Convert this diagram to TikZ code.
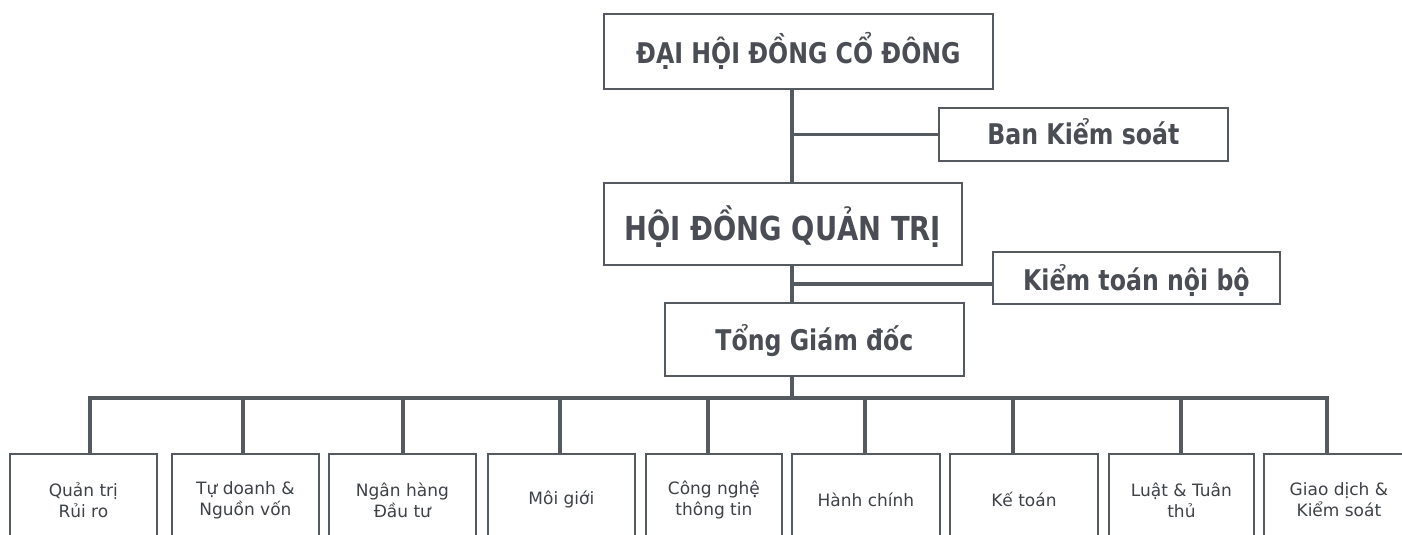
\documentclass[tikz,border=0pt]{standalone}
\usepackage{fontspec}
\setmainfont{DejaVu Sans}
\newfontfamily\titlefont[FakeStretch=0.83]{DejaVu Sans}
\definecolor{txt}{HTML}{4A4E54}
\definecolor{unittxt}{HTML}{3E4146}
\definecolor{ln}{HTML}{555A60}
\begin{document}
\begin{tikzpicture}[x=1pt,y=-1pt,
  box/.style={draw=ln, line width=1.8pt, rectangle, inner sep=0pt, text=txt, anchor=north west},
  head/.style={box, font=\titlefont\bfseries\fontsize{28.5}{33}\selectfont, text height=20.8pt, text depth=0pt},
  bighead/.style={box, font=\titlefont\bfseries\fontsize{33}{38}\selectfont, text height=24pt, text depth=0pt},
  unit/.style={box, text=unittxt, font=\fontsize{17}{21}\selectfont, align=center, minimum height=92pt},
  conn/.style={draw=ln, line width=3.5pt, line join=miter},
]
\clip (0,0) rectangle (1402,535);
\fill[white] (0,0) rectangle (1402,535);

% top hierarchy
\node[head, text height=24.8pt, minimum width=389pt, minimum height=75pt] (dhd) at (603,13) {ĐẠI HỘI ĐỒNG CỔ ĐÔNG};
\node[head, minimum width=289pt, minimum height=53pt] (bks) at (938,107) {Ban Kiểm soát};
\node[bighead, text height=34pt, minimum width=358pt, minimum height=82pt] (hdqt) at (603,182) {HỘI ĐỒNG QUẢN TRỊ};
\node[head, text height=24.8pt, minimum width=287pt, minimum height=52pt] (ktnb) at (992,251) {Kiểm toán nội bộ};
\node[head, text height=22.8pt, minimum width=299pt, minimum height=73pt] (tgd) at (664,302) {Tổng Giám đốc};

% units
\node[unit, minimum width=147pt] (u1) at (9,453) {Quản trị\\Rủi ro};
\node[unit, minimum width=147pt] (u2) at (171,453) {Tự doanh \&\\Nguồn vốn};
\node[unit, minimum width=147pt] (u3) at (328,453) {Ngân hàng\\Đầu tư};
\node[unit, minimum width=147pt] (u4) at (487,453) {Môi giới};
\node[unit, minimum width=136pt] (u5) at (645,453) {Công nghệ\\thông tin};
\node[unit, minimum width=148pt] (u6) at (791,453) {Hành chính};
\node[unit, minimum width=148pt] (u7) at (949,453) {Kế toán};
\node[unit, minimum width=145pt] (u8) at (1108,453) {Luật \& Tuân\\thủ};
\node[unit, minimum width=150pt] (u9) at (1263,453) {Giao dịch \&\\Kiểm soát};

% spine
\coordinate (sp) at (792,0);
\coordinate (busy) at (0,398);
\coordinate (kt) at ([yshift=-6pt]ktnb.west);
\draw[conn] (sp |- dhd.south) -- (sp |- hdqt.north);
\draw[conn] (sp |- bks.west) -- (bks.west);
\draw[conn] (sp |- hdqt.south) -- (sp |- tgd.north);
\draw[conn] (sp |- kt) -- (kt);
\draw[conn] (sp |- tgd.south) -- (sp |- busy);

% bus
\coordinate (b1) at (90,398);
\coordinate (b2) at (243,398);
\coordinate (b3) at (403,398);
\coordinate (b4) at (560,398);
\coordinate (b5) at (708,398);
\coordinate (b6) at (865,398);
\coordinate (b7) at (1013,398);
\coordinate (b8) at (1181,398);
\coordinate (b9) at (1327,398);
\draw[conn] (b1 |- u1.north) -- (b1) -- (b9) -- (b9 |- u9.north);
\foreach \i in {2,...,8} {
  \draw[conn] (b\i) -- (b\i |- u\i.north);
}
\end{tikzpicture}
\end{document}
